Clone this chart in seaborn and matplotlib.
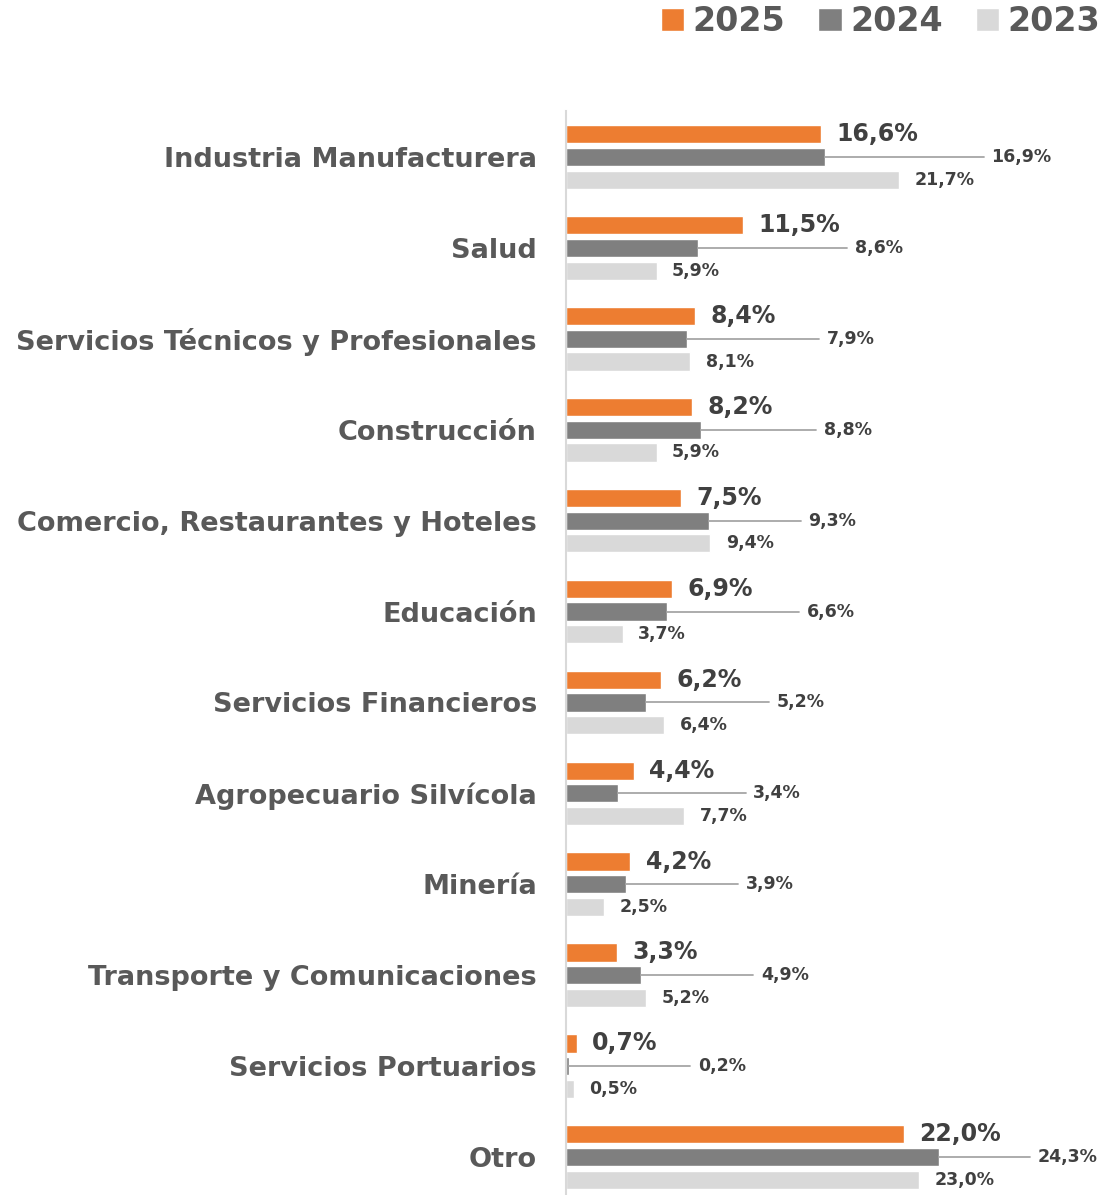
"""Distribución por sector económico, comparación 2025 / 2024 / 2023."""

import matplotlib.pyplot as plt
import pandas as pd
import seaborn as sns

categories = [
    "Industria Manufacturera",
    "Salud",
    "Servicios Técnicos y Profesionales",
    "Construcción",
    "Comercio, Restaurantes y Hoteles",
    "Educación",
    "Servicios Financieros",
    "Agropecuario Silvícola",
    "Minería",
    "Transporte y Comunicaciones",
    "Servicios Portuarios",
    "Otro",
]
years = ["2025", "2024", "2023"]
v2025 = [16.6, 11.5, 8.4, 8.2, 7.5, 6.9, 6.2, 4.4, 4.2, 3.3, 0.7, 22.0]
v2024 = [16.9, 8.6, 7.9, 8.8, 9.3, 6.6, 5.2, 3.4, 3.9, 4.9, 0.2, 24.3]
v2023 = [21.7, 5.9, 8.1, 5.9, 9.4, 3.7, 6.4, 7.7, 2.5, 5.2, 0.5, 23.0]

# where the 2024 labels were dragged to (x, in % units)
label24_x = [27.7, 18.8, 17.0, 16.8, 15.8, 15.7, 13.7, 12.2, 11.7, 12.7, 8.6, 30.7]

colors = {"2025": "#ED7D31", "2024": "#7F7F7F", "2023": "#D9D9D9"}
TXT = "#404040"
CAT = "#595959"


def fmt(v):
    return f"{v:.1f}".replace(".", ",") + "%"


df = pd.DataFrame({
    "sector": categories * 3,
    "year": ["2025"] * 12 + ["2024"] * 12 + ["2023"] * 12,
    "value": v2025 + v2024 + v2023,
})

sns.set_theme(style="white")
plt.rcParams["font.family"] = ["DejaVu Sans"]

fig = plt.figure(figsize=(11.05, 11.95), dpi=100)
ax = fig.add_axes([0.5122, -0.0063, 0.485, 0.913])

sns.barplot(data=df, y="sector", x="value", hue="year", hue_order=years,
            palette=colors, orient="h", width=0.75, gap=0.2, ax=ax,
            saturation=1, legend=True)

ax.set_xlim(0, 34.9)
ax.set_ylim(11.5, -0.5)
ax.set_xlabel("")
ax.set_ylabel("")
ax.set_xticks([])
for s in ["top", "right", "bottom"]:
    ax.spines[s].set_visible(False)
ax.spines["left"].set_color("#D9D9D9")
ax.spines["left"].set_linewidth(1.5)
ax.tick_params(axis="y", length=0, pad=21)
for lab in ax.get_yticklabels():
    lab.set_fontsize(19.5)
    lab.set_fontweight("bold")
    lab.set_color(CAT)

off = 0.25
for i in range(len(categories)):
    ax.text(v2025[i] + 1.0, i - off, fmt(v2025[i]), va="center", ha="left",
            fontsize=17, fontweight="bold", color=TXT)
    ax.plot([v2024[i], label24_x[i] - 0.5], [i, i], color="#A6A6A6", lw=1.3)
    ax.text(label24_x[i], i, fmt(v2024[i]), va="center", ha="left",
            fontsize=12.5, fontweight="bold", color=TXT)
    ax.text(v2023[i] + 1.0, i + off, fmt(v2023[i]), va="center", ha="left",
            fontsize=12.5, fontweight="bold", color=TXT)

handles, labels = ax.get_legend_handles_labels()
ax.legend_.remove()
leg = fig.legend(handles, labels, loc="upper right", bbox_to_anchor=(1.023, 1.021),
                 ncol=3, frameon=False, handlelength=0.7, handleheight=0.7,
                 handletextpad=0.25, columnspacing=1.0,
                 prop={"size": 24, "weight": "bold"})
for t in leg.get_texts():
    t.set_color(CAT)

fig.savefig("out.png", dpi=100)
